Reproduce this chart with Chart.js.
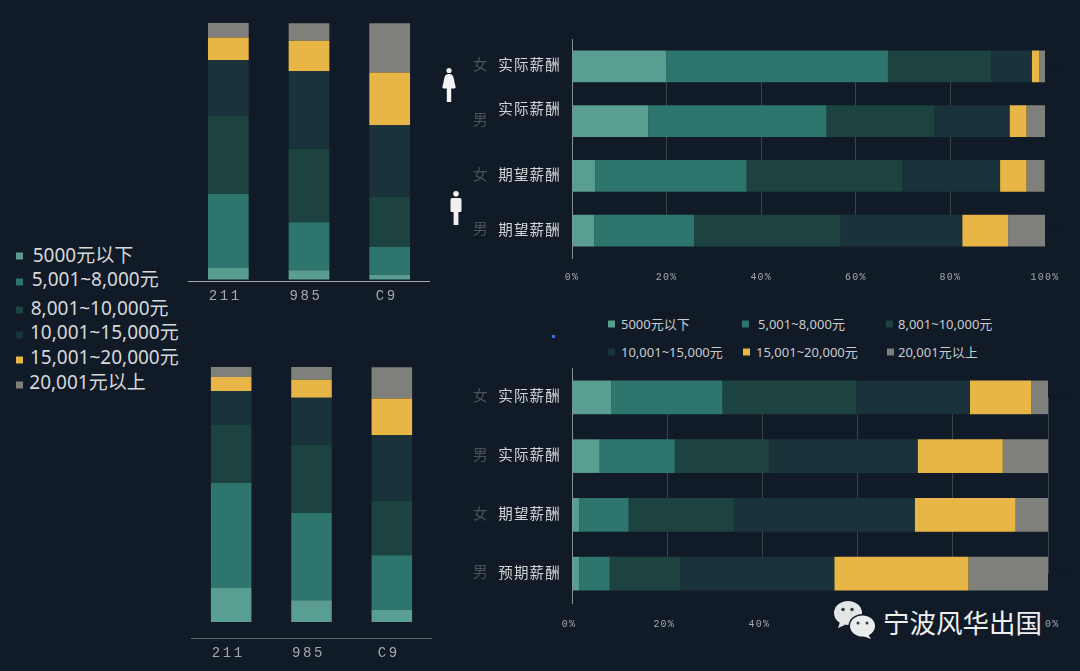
<!DOCTYPE html>
<html lang="zh"><head><meta charset="utf-8">
<script src="https://cdn.jsdelivr.net/npm/chart.js@4/dist/chart.umd.min.js"></script>
<style>
html,body{margin:0;padding:0;background:#111a27;width:1080px;height:671px;overflow:hidden;font-family:"Noto Sans","Noto Sans CJK SC",sans-serif}
#stage{position:relative;width:1080px;height:671px;background:#111a27}
.box{position:absolute}
.lg{position:absolute;white-space:nowrap;line-height:1;transform:translateY(-50%)}
.mk{position:absolute;width:7px;height:7px;transform:translateY(-50%)}
#wm{position:absolute;left:828px;top:600px;width:216px;height:42px;background:#111a27}
#wmText{position:absolute;left:883px;top:622px;transform:translateY(-50%);font:26.5px "Noto Sans CJK SC",sans-serif;color:#eef0f0;line-height:1;white-space:nowrap}
</style></head><body><div id="stage"></div>
<script>
const bands=['5000元以下','5,001~8,000元','8,001~10,000元','10,001~15,000元','15,001~20,000元','20,001元以上'];
const bandColors=['#5a9e92','#2d756d','#1c4340','#1a333b','#e8b646','#7f7f7b'];
const schools=['211','985','C9'];
const rowsTop=['实际薪酬',['实际薪酬',''],'期望薪酬','期望薪酬'];
const rowsBottom=['实际薪酬','实际薪酬','期望薪酬','预期薪酬'];
const genders=['女','男','女','男'];
// one row per salary band, one column per category
const topLeft=[[4.7,3.6,1.8],[28.6,18.7,10.9],[30.4,28.8,19.5],[21.8,30.1,27.9],[8.8,11.9,20.6],[5.7,6.8,19.2]];
const bottomLeft=[[13.5,8.5,4.8],[41.0,34.2,21.4],[23.0,26.9,21.4],[13.1,18.3,25.6],[5.5,7.1,14.4],[3.9,5.0,12.3]];
const topRight=[[19.9,16.1,4.9,4.7],[46.9,37.7,32.0,21.1],[21.8,22.8,32.9,31.0],[8.6,15.9,20.7,25.7],[1.6,3.6,5.6,9.7],[1.2,4.0,3.8,7.8]];
const bottomRight=[[8.2,5.8,1.5,1.5],[23.4,15.8,10.4,6.4],[28.1,19.9,22.1,14.8],[23.9,31.1,38.0,32.4],[12.9,17.9,21.2,28.2],[3.5,9.5,6.8,16.8]];

const BG='#111a27', CJK='"Noto Sans CJK SC",sans-serif', MONO='"Liberation Mono",monospace';
Chart.defaults.animation=false;
Chart.defaults.responsive=false;
Chart.defaults.devicePixelRatio=1;
const stage=document.getElementById('stage');
function canvasAt(l,t,w,h){const c=document.createElement('canvas');c.width=w;c.height=h;c.className='box';
  c.style.cssText=`left:${l}px;top:${t}px;width:${w}px;height:${h}px`;stage.appendChild(c);return c;}
const sets=(rows,barPct)=>rows.map((data,i)=>({label:bands[i],data,backgroundColor:bandColors[i],borderWidth:0,categoryPercentage:1,barPercentage:barPct}));
const spacing=px=>({id:'sp',beforeDraw(ch){ch.ctx.letterSpacing=px;}});
const noPad=s=>{s.paddingLeft=s.paddingRight=s.paddingTop=s.paddingBottom=0;};
const gridMask={id:'gridMask',beforeDatasetsDraw(ch){const a=ch.chartArea,y=ch.scales.y,c=ch.ctx;c.save();c.fillStyle=BG;
  c.fillRect(a.left+1,a.top,ch.width-a.left,y.getPixelForValue(0)-a.top);
  const b=y.getPixelForValue(3);c.fillRect(a.left+1,b,ch.width-a.left,a.bottom-b);c.restore();}};

function columns(l,t,w,h,rows,yMin,axisColor){
  new Chart(canvasAt(l,t,w,h),{type:'bar',data:{labels:schools,datasets:sets(rows,0.505)},plugins:[spacing('2.6px')],options:{
    layout:{padding:0},plugins:{legend:{display:false},tooltip:{enabled:false}},
    scales:{
      x:{stacked:true,grid:{display:false,drawTicks:false},border:{color:axisColor,width:1},
         ticks:{color:'#a4a9ae',font:{family:MONO,size:14},padding:7,labelOffset:-3,maxRotation:0},afterFit(s){s.height=26;noPad(s);}},
      y:{stacked:true,display:false,min:yMin,max:100}
    }}});
}
columns(188,23,242,284,topLeft,-0.6,'#a3a7ab');
columns(191,367,241,297,bottomLeft,-6.27,'#5d656d');

function rowsChart(t,w,h,rows,labels,bottomH,tickPad,tickOff,barPct,show100){
  new Chart(canvasAt(460,t,w,h),{type:'bar',data:{labels,datasets:sets(rows,barPct)},plugins:[spacing('1.2px'),gridMask],options:{
    indexAxis:'y',layout:{padding:{right:20}},plugins:{legend:{display:false},tooltip:{enabled:false}},
    scales:{
      x:{stacked:true,min:0,max:100,border:{display:false},
         grid:{drawTicks:false,lineWidth:1,color:c=>(c.tick&&c.tick.value===100&&!show100)?'rgba(0,0,0,0)':'#3b434d'},
         ticks:{stepSize:20,color:'#a4a9ae',font:{family:MONO,size:10},padding:tickPad,labelOffset:tickOff,maxRotation:0,callback:v=>v+'%'},
         afterFit(s){s.height=bottomH;noPad(s);}},
      y:{stacked:true,weight:0,position:'left',grid:{display:false,drawTicks:false},border:{color:'#8b9095',width:1},
         ticks:{autoSkip:false,color:'#d2d4d6',font:{family:CJK,size:14.5,lineHeight:1.5},padding:11,labelOffset:-1.5},afterFit(s){s.width=82;noPad(s);}},
      g:{type:'category',weight:1,position:'left',labels:genders,offset:true,grid:{display:false,drawTicks:false},border:{display:false},
         ticks:{autoSkip:false,color:'#4a5057',font:{family:CJK,size:15},padding:1,labelOffset:-2},afterFit(s){s.width=30;noPad(s);}}
    }}});
}
rowsChart(39,605,249,topRight,rowsTop,30,13,0,0.58,false);
rowsChart(368,608,270,bottomRight,rowsBottom,35,15,-3,0.572,true);

// Legends
function legend(items){items.forEach(it=>{
  const m=document.createElement('div');m.className='mk';m.style.cssText=`left:${it.mx}px;top:${it.my}px;background:${bandColors[it.i]}`;stage.appendChild(m);
  const s=document.createElement('div');s.className='lg';s.textContent=bands[it.i];
  s.style.cssText=`left:${it.tx}px;top:${it.ty}px;font-size:${it.fs}px;color:${it.col}`;stage.appendChild(s);});}
const leftTextX=[32.7,31.7,30.7,30,30,29.3], leftTextY=[255,279,308,332,357,382], leftMarkY=[256,282,310,335,360,385];
legend(bands.map((_,i)=>({i,mx:16,my:leftMarkY[i],tx:leftTextX[i],ty:leftTextY[i],fs:19,col:'#d6d8d9'})));
const midMarkX=[608,742,886,608,743,887], midTextX=[621,758,898,621,756,898], midY=[324,324,324,352,352,352];
legend(bands.map((_,i)=>({i,mx:midMarkX[i],my:midY[i],tx:midTextX[i],ty:midY[i],fs:13,col:'#c8ccd0'})));

// Decorations
stage.insertAdjacentHTML('beforeend',`
<div style="position:absolute;left:552px;top:335px;width:3px;height:3px;background:#3a6fd8"></div>
<svg style="position:absolute;left:441px;top:66px" width="16" height="38" viewBox="0 0 16 38"><g fill="#f4f4f4"><circle cx="8" cy="4.5" r="2.6"/><path d="M8 8c3 0 4 1.5 4.6 4l2 9c.2 1-1 1.6-2.8 1.6H10.2V36H9L8.4 36H7.6L7 36H5.8V22.6H4.2C2.400 22.600 1.200 22 1.400 21l2-9C4 9.500 5 8 8 8z"/></g></svg>
<svg style="position:absolute;left:449px;top:189px" width="14" height="38" viewBox="0 0 14 38"><g fill="#f0f0f0"><circle cx="7" cy="4.800" r="2.800"/><path d="M3.500 9h7c1.200 0 2 .8 2 2v10.500c0 1-.6 1.500-1.600 1.500H9.400V36H4.600V23H3c-1 0-1.500-.5-1.500-1.500V11c0-1.200.8-2 2-2z"/></g></svg>
<div id="wm"></div>
<svg style="position:absolute;left:832px;top:600px" width="46" height="40" viewBox="0 0 46 40">
<ellipse cx="16" cy="13" rx="14" ry="12" fill="#e2e6e6"/><path d="M8 22l-2 6 7-3z" fill="#e2e6e6"/>
<circle cx="11" cy="9.500" r="1.800" fill="#333b42"/><circle cx="20" cy="9.500" r="1.800" fill="#333b42"/>
<ellipse cx="30.500" cy="26" rx="14" ry="12" fill="#111a27"/>
<ellipse cx="30.500" cy="26" rx="12.500" ry="10.500" fill="#e8ecec"/><path d="M36 34l3 5-8-3z" fill="#e8ecec"/>
<circle cx="26" cy="23" r="1.500" fill="#333b42"/><circle cx="35" cy="23" r="1.500" fill="#333b42"/></svg>
<div id="wmText">宁波风华出国</div>`);
</script></body></html>
